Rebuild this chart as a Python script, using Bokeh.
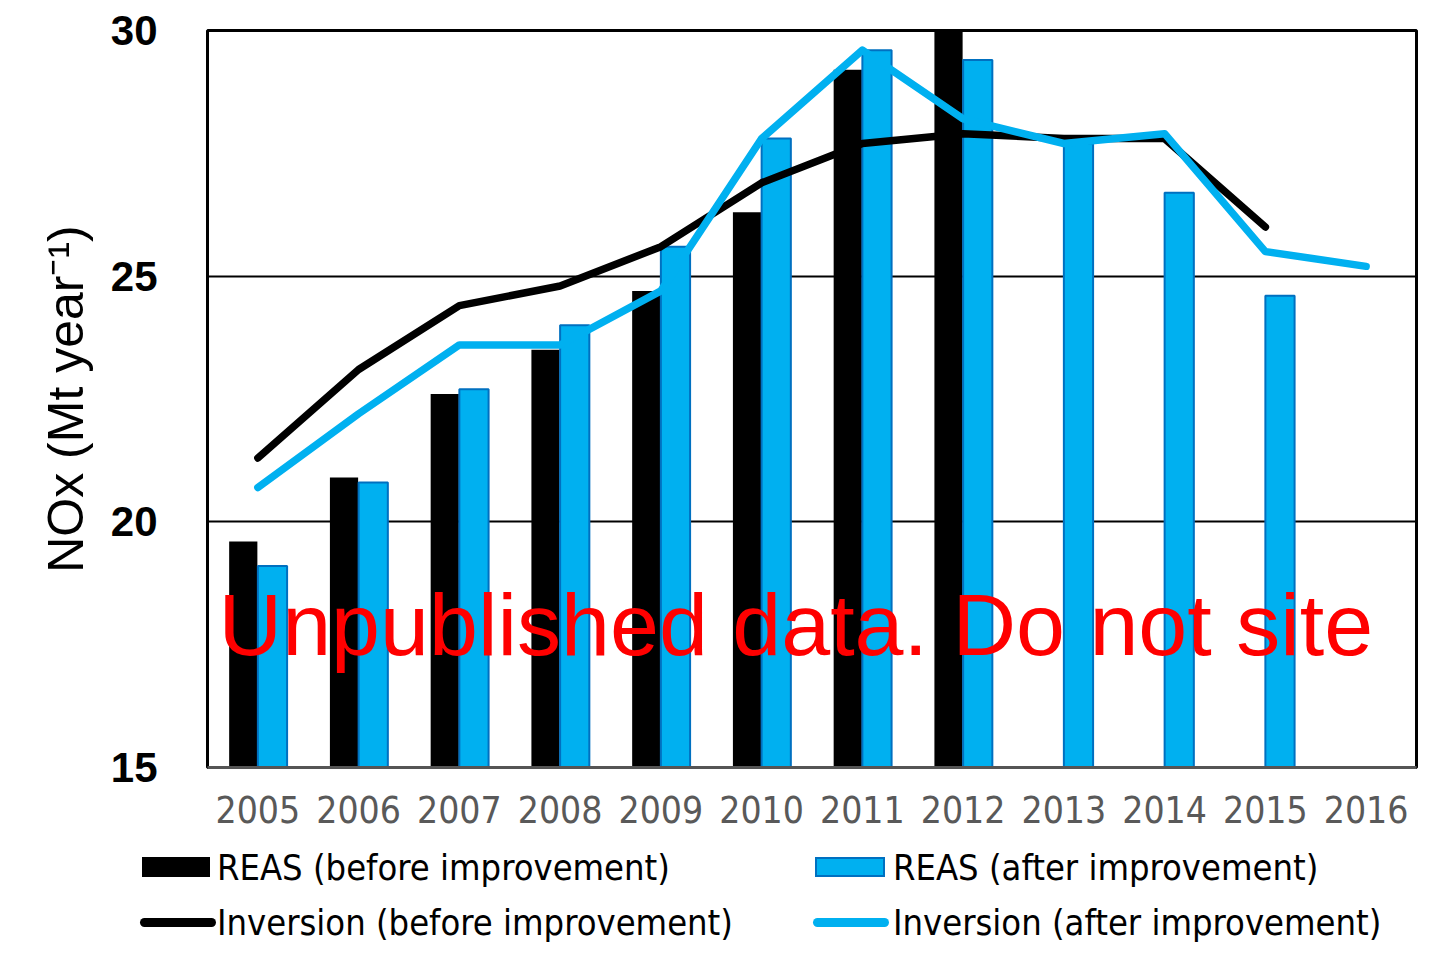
from bokeh.plotting import figure
from bokeh.models import (FactorRange, Range1d, Label, ColumnDataSource,
                          FixedTicker, Div)
from bokeh.layouts import column
from bokeh.transform import dodge
from bokeh.embed import file_html
from bokeh.resources import INLINE

# ---- data ----
years = ["2005", "2006", "2007", "2008", "2009", "2010",
         "2011", "2012", "2013", "2014", "2015", "2016"]

reas_before_years = ["2005", "2006", "2007", "2008", "2009", "2010", "2011", "2012"]
reas_before = [19.6, 20.9, 22.6, 23.5, 24.7, 26.3, 29.2, 30.6]

reas_after_years = ["2005", "2006", "2007", "2008", "2009", "2010",
                    "2011", "2012", "2013", "2014", "2015"]
reas_after = [19.1, 20.8, 22.7, 24.0, 25.6, 27.8, 29.6, 29.4, 27.7, 26.7, 24.6]

inv_before_years = ["2005", "2006", "2007", "2008", "2009", "2010",
                    "2011", "2012", "2013", "2014", "2015"]
inv_before = [21.3, 23.1, 24.4, 24.8, 25.6, 26.9, 27.7, 27.9, 27.8, 27.8, 26.0]

inv_after_years = years
inv_after = [20.7, 22.2, 23.6, 23.6, 24.7, 27.8, 29.6, 28.2, 27.7, 27.9, 25.5, 25.2]

y_ticks = [15, 20, 25, 30]
series_labels = ["REAS (before improvement)", "Inversion (before improvement)",
                 "REAS (after improvement)", "Inversion (after improvement)"]

BLUE = "#00B0F0"
BLUE_EDGE = "#0070C0"
NARROW = "DejaVu Sans Condensed, Noto Sans CJK JP, sans-serif"

MAIN_H = 842
p = figure(width=1453, height=MAIN_H, x_range=FactorRange(*years),
           y_range=Range1d(15, 30), output_backend="svg", toolbar_location=None,
           min_border_left=207, min_border_right=37, min_border_top=30,
           min_border_bottom=MAIN_H - 767)
p.background_fill_color = "white"
p.border_fill_color = "white"
p.outline_line_color = "black"
p.outline_line_width = 3

src_rb = ColumnDataSource(dict(x=reas_before_years, top=reas_before))
src_ra = ColumnDataSource(dict(x=reas_after_years, top=reas_after))
src_ib = ColumnDataSource(dict(x=inv_before_years, y=inv_before))
src_ia = ColumnDataSource(dict(x=inv_after_years, y=inv_after))

p.vbar(x=dodge("x", -0.145, range=p.x_range), top="top", bottom=15,
       width=0.28, source=src_rb, fill_color="black", line_color=None)
p.vbar(x=dodge("x", 0.145, range=p.x_range), top="top", bottom=15,
       width=0.29, source=src_ra, fill_color=BLUE, line_color=BLUE_EDGE,
       line_width=2)
p.line(x="x", y="y", source=src_ib, line_color="black", line_width=7.5,
       line_cap="round", line_join="round")
p.line(x="x", y="y", source=src_ia, line_color=BLUE, line_width=7.5,
       line_cap="round", line_join="round")

# axes
p.yaxis.ticker = FixedTicker(ticks=y_ticks)
p.ygrid.ticker = FixedTicker(ticks=y_ticks)
p.ygrid.grid_line_color = "black"
p.ygrid.grid_line_width = 2
p.xgrid.grid_line_color = None

p.yaxis.axis_line_color = None
p.yaxis.major_tick_line_color = None
p.yaxis.minor_tick_line_color = None
p.yaxis.major_tick_out = 0
p.yaxis.major_label_text_font = "Liberation Sans"
p.yaxis.major_label_text_font_style = "bold"
p.yaxis.major_label_text_font_size = "42px"
p.yaxis.major_label_text_color = "black"
p.yaxis.major_label_standoff = 50
p.yaxis.axis_label = "NOx (Mt year\u207b\u00b9)"
p.yaxis.axis_label_text_font = "Liberation Sans"
p.yaxis.axis_label_text_font_style = "normal"
p.yaxis.axis_label_text_font_size = "50px"
p.yaxis.axis_label_text_color = "black"
p.yaxis.axis_label_standoff = 14

p.xaxis.axis_line_color = "#555555"
p.xaxis.axis_line_width = 3
p.xaxis.major_tick_line_color = None
p.xaxis.minor_tick_line_color = None
p.xaxis.major_label_text_font = NARROW
p.xaxis.major_label_text_font_style = "normal"
p.xaxis.major_label_text_font_size = "37px"
p.xaxis.major_label_text_color = "#595959"
p.xaxis.major_label_standoff = 22

# watermark (sized so that it stays whole inside the plot box)
wm = Label(x=0.11, y=17.91, text="Unpublished data. Do not site",
           text_font="Liberation Sans", text_font_size="88px",
           text_color="red", text_align="left", text_baseline="alphabetic")
p.add_layout(wm)

# ---- legend strip below the chart (two columns, two rows) ----
LEG_H = 964 - MAIN_H
swatches = [
    # (label, kind, colour, left, row)
    (series_labels[0], "bar", "black", 142, 0),
    (series_labels[1], "line", "black", 140, 1),
    (series_labels[2], "bar", BLUE, 815, 0),
    (series_labels[3], "line", BLUE, 813, 1),
]
parts = []
for label, kind, col, left, row in swatches:
    cy = 25 + 55 * row
    if kind == "bar":
        border = f"border:2px solid {BLUE_EDGE};box-sizing:border-box;" if col == BLUE else ""
        parts.append(f'<div style="position:absolute;left:{left}px;top:{cy - 10}px;'
                     f'width:{68 if col == "black" else 70}px;height:20px;background:{col};{border}"></div>')
        tx = left + (75 if col == "black" else 78)
    else:
        parts.append(f'<div style="position:absolute;left:{left}px;top:{cy - 4}px;'
                     f'width:76px;height:9px;border-radius:5px;background:{col};"></div>')
        tx = left + 77 if col == "black" else left + 80
    parts.append(f'<div style="position:absolute;left:{tx}px;top:{cy - 24}px;height:50px;'
                 f'line-height:50px;font-family:{NARROW};font-size:36px;color:black;'
                 f'white-space:nowrap;">{label}</div>')
html = ('<div style="position:relative;width:1453px;height:%dpx;background:white;">'
        % LEG_H) + "".join(parts) + "</div>"
leg = Div(text=html, width=1453, height=LEG_H, margin=0)

open("out.html", "w").write(file_html(column(p, leg, spacing=0), INLINE))
